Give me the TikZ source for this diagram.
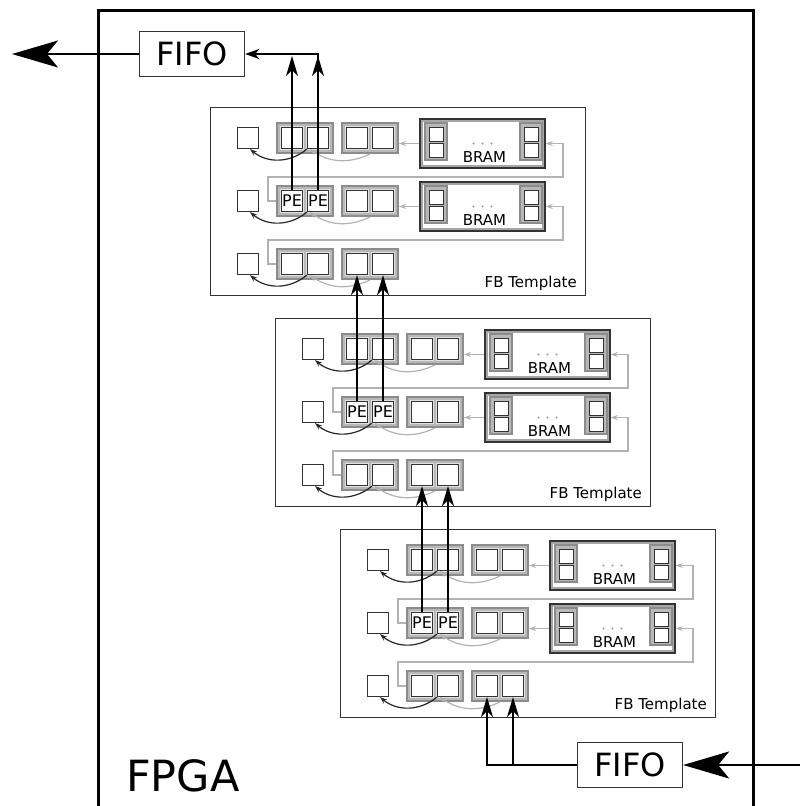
\documentclass[tikz,border=0pt]{standalone}
\usepackage{fontspec}
\setmainfont{DejaVu Sans}
\usetikzlibrary{arrows.meta}

\begin{document}
\begin{tikzpicture}[x=1pt,y=-1pt,
  box/.style={draw=black!80,line width=1.2pt,fill=white,minimum width=21pt,minimum height=21pt,inner sep=0pt},
  cell/.style={box,preaction={draw=black!12,line width=3.5pt},font=\fontsize{16}{16}\selectfont},
  group/.style={draw=black!45,fill=black!28,line width=2pt,minimum width=56pt,minimum height=30pt,inner sep=0pt},
  bram/.style={draw=black!80,fill=white,line width=1.5pt,minimum width=125pt,minimum height=49pt,inner sep=0pt},
  col/.style={draw=black!45,fill=black!28,line width=1.2pt,minimum width=22pt,minimum height=37pt,inner sep=0pt},
  bcell/.style={rectangle,draw=black!80,fill=white,line width=1pt,minimum width=14pt,minimum height=14pt,inner sep=0pt,outer sep=0pt},
  frame/.style={draw=black!80,line width=1.3pt,minimum width=375pt,minimum height=188pt,inner sep=0pt},
  fifo/.style={draw=black!80,line width=1.3pt,minimum width=105pt,minimum height=45pt,inner sep=0pt,font=\fontsize{32}{36}\selectfont},
  lbl/.style={inner sep=0pt,font=\fontsize{15}{18}\selectfont},
  backarrow/.style={black!85,line width=1.2pt,-{Stealth[length=7pt,width=5pt]}},
  feedarrow/.style={black!30,line width=1.2pt,-{Stealth[length=7pt,width=5pt]}},
  wire/.style={black,line width=1.4pt},
  uparrow/.style={wire,-{Stealth[length=20pt,width=12pt,inset=6pt]}},
  big/.style={black,line width=2pt,-{Stealth[length=46pt,width=27pt,inset=11pt]}}]
\useasboundingbox (0,0) rectangle (800,806);

% FPGA
\draw[black,line width=3pt] (98,806) |- (753,10) -- (753,806);
\node[anchor=base west,inner sep=0pt,font=\fontsize{43}{48}\selectfont] (fpga) at (126,791) {FPGA};

% FB templates
\foreach \tn/\tx/\ty in {t1/210/107,t2/275/318,t3/340/529}{
\begin{scope}[shift={(\tx,\ty)},name prefix=\tn-]
\node[frame,anchor=north west] (box) at (0,0) {};
\node[lbl,anchor=base east] (name) at (367,180) {FB Template};
\foreach \r in {0,1,2}{
  \pgfmathsetmacro\cy{31+63*\r}
  \node[box] (r\r-l) at (38,\cy) {};
  \node[group] (r\r-ga) at (95,\cy) {};
  \node[group] (r\r-gb) at (160,\cy) {};
  \node[cell] (r\r-s1) at (82,\cy) {\ifnum\r=1 PE\fi};
  \node[cell] (r\r-s2) at (108,\cy) {\ifnum\r=1 PE\fi};
  \node[cell] (r\r-s3) at (147,\cy) {};
  \node[cell] (r\r-s4) at (173,\cy) {};
  \draw[feedarrow] (r\r-gb.south) to[bend left=30] ([xshift=3pt]r\r-s2.south west);
  \draw[backarrow] (r\r-s2.south west) to[bend left=40] ([xshift=2pt]r\r-l.south);
}
\foreach \r in {0,1}{
  \pgfmathsetmacro\cy{31+63*\r}
  \pgfmathtruncatemacro\rn{\r+1}
  \node[bram] (r\r-b) at (272.5,\cy+5.5) {};
  \draw[black!35,line width=2pt] ([shift={(3,3)}]r\r-b.north west) rectangle ([shift={(-3,-3)}]r\r-b.south east);
  \node[col] (r\r-cl) at (226,\cy+3.5) {};
  \node[col] (r\r-cr) at (321,\cy+3.5) {};
  \node[bcell] (r\r-m1) at (226,\cy-4) {};
  \node[bcell] (r\r-m2) at (226,\cy+12) {};
  \node[bcell] (r\r-m3) at (321,\cy-4) {};
  \node[bcell] (r\r-m4) at (321,\cy+12) {};
  \foreach \d in {-9,0,9}
    \fill[black!40] ([xshift=\d pt]r\r-b.center) circle[radius=1.2pt];
  \node[lbl] (r\r-bt) at ([xshift=2pt,yshift=-14pt]r\r-b.center) {BRAM};
  \draw[feedarrow] (r\r-b.west) -- (r\r-gb.east |- r\r-b.west);
  \coordinate (r\r-k) at (353,\cy+39);
  \draw[feedarrow] (r\rn-ga.west) -- ++(-8,0) |- (r\r-k) |- (r\r-b.east);
}
\end{scope}
}

% FIFOs
\node[fifo] (fifoout) at (192,54) {FIFO};
\node[fifo] (fifoin) at (630,765) {FIFO};
\coordinate (out) at (12,54);
\coordinate (in) at (800,765);
\coordinate (tap) at (0,56);
\draw[big] (fifoout.west) -- (out);
\draw[big] (in) -- (fifoin.east);

% PE outputs
\draw[wire,-{Stealth[length=14pt,width=10pt,inset=4pt]}] (t1-r1-s2.north) |- (fifoout.east);
\draw[uparrow] (t1-r1-s1.north) -- (t1-r1-s1.north |- tap);
\draw[uparrow] (t1-r1-s2.north) -- (t1-r1-s2.north |- tap);
\draw[uparrow] (t2-r1-s1.north) -- (t1-r2-s3.south);
\draw[uparrow] (t2-r1-s2.north) -- (t1-r2-s4.south);
\draw[uparrow] (t3-r1-s1.north) -- (t2-r2-s3.south);
\draw[uparrow] (t3-r1-s2.north) -- (t2-r2-s4.south);
\draw[uparrow] (fifoin.west) -| (t3-r2-s3.south);
\draw[uparrow] (t3-r2-s4.south |- fifoin.west) -- (t3-r2-s4.south);
\end{tikzpicture}
\end{document}
